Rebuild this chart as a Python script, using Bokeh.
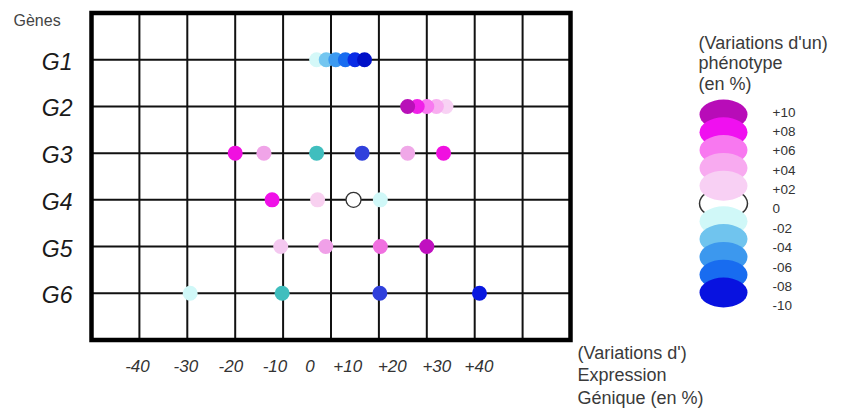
from bokeh.plotting import figure
from bokeh.models import Range1d
from bokeh.core.properties import value
from bokeh.embed import file_html
from bokeh.resources import INLINE

FONT = "Liberation Sans"

# ---------------- data ----------------
genes = ["G1", "G2", "G3", "G4", "G5", "G6"]

# gene expression variation (%) of each dot, per gene (listed in drawing order)
expr_G1 = [-3, -1, 1, 3, 5, 7]
expr_G2 = [24, 22, 20, 18, 16]
expr_G3 = [-20, -14, -3, 6.5, 16, 23.5]
expr_G4 = [-12.3, -2.8, 4.7, 10.3]
expr_G5 = [-10.5, -1.1, 10.3, 20]
expr_G6 = [-29.4, -10.2, 10.2, 31]

# colour of each dot (phenotype variation)
col_G1 = ["#d4f8f8", "#74c6f0", "#3c9af0", "#186cf0", "#0a2ce6", "#0010c8"]
col_G2 = ["#f8d2f4", "#f8aef0", "#f878f0", "#f020e8", "#b810b8"]
col_G3 = ["#f010e0", "#f0a4e8", "#40bebe", "#3040dc", "#f0a8e8", "#f010e0"]
col_G4 = ["#f010e8", "#f8d0f0", "#ffffff", "#d0f8f8"]
col_G5 = ["#f4c8f0", "#f0a0e8", "#f070e0", "#c010c0"]
col_G6 = ["#d0f8f8", "#40bebe", "#3040dc", "#0818e0"]

expr_values = [expr_G1, expr_G2, expr_G3, expr_G4, expr_G5, expr_G6]
dot_colors = [col_G1, col_G2, col_G3, col_G4, col_G5, col_G6]

# expression axis: grid lines and its (hand-placed) tick labels
x_limits = [-50, 50]
grid_x = [-40, -30, -20, -10, 0, 10, 20, 30, 40]
x_tick_labels = ["-40", "-30", "-20", "-10", "0", "+10", "+20", "+30", "+40"]
x_tick_positions = [-40.4, -30.3, -20.9, -11.7, -4.4, 3.5, 12.8, 22.1, 30.9]

# phenotype legend
legend_values = [10, 8, 6, 4, 2, 0, -2, -4, -6, -8, -10]
legend_labels = ["+10", "+08", "+06", "+04", "+02", "0", "-02", "-04", "-06", "-08", "-10"]
legend_colors = ["#b80cb8", "#f010f0", "#f878f0", "#f8aaf0", "#f8d0f4", "#ffffff",
                 "#d0f8f8", "#70c4ee", "#3c98ee", "#186cf0", "#0812e0"]

legend_title = ["(Variations d'un)", "phénotype", "(en %)"]
x_title = ["(Variations d')", "Expression", "Génique (en %)"]
y_title = "Gènes"

# ---------------- layout (pixels) ----------------
W, H = 840, 410
BOX_L, BOX_R, BOX_T, BOX_B = 91, 570, 12.6, 339.4

n = len(genes)
gene_row = {g: n - i for i, g in enumerate(genes)}
y_limits = [0, n + 1]

ux = (x_limits[1] - x_limits[0]) / (BOX_R - BOX_L)
uy = (y_limits[1] - y_limits[0]) / (BOX_B - BOX_T)
x_range = Range1d(x_limits[0] - BOX_L * ux, x_limits[1] + (W - BOX_R) * ux)
y_range = Range1d(y_limits[0] - (H - BOX_B) * uy, y_limits[1] + BOX_T * uy)

p = figure(width=W, height=H, x_range=x_range, y_range=y_range,
           output_backend="svg", toolbar_location=None, min_border=0,
           x_axis_location=None, y_axis_location=None)
p.extra_x_ranges = {"px": Range1d(0, W)}
p.extra_y_ranges = {"px": Range1d(H, 0)}
p.grid.visible = False
p.outline_line_color = None
p.background_fill_color = "white"
p.border_fill_color = "white"

# grid
rows = list(gene_row.values())
p.segment(x0=grid_x, y0=[y_limits[0]] * len(grid_x), x1=grid_x, y1=[y_limits[1]] * len(grid_x),
          line_color="#111111", line_width=2)
p.segment(x0=[x_limits[0]] * n, y0=rows, x1=[x_limits[1]] * n, y1=rows,
          line_color="#111111", line_width=2)
# frame
p.quad(left=[x_limits[0]], right=[x_limits[1]], bottom=[y_limits[0]], top=[y_limits[1]],
       fill_color=None, line_color="black", line_width=4.5, line_join="miter")

# dots
xs, ys, fills, lines = [], [], [], []
for g, ev, cv in zip(genes, expr_values, dot_colors):
    for xv, c in zip(ev, cv):
        xs.append(xv)
        ys.append(gene_row[g])
        fills.append(c)
        lines.append("#333333" if c == "#ffffff" else None)
p.scatter(x=xs, y=ys, size=15, fill_color=fills, line_color=lines, line_width=1.3)

# tick labels (x)
p.text(x=x_tick_positions, y=[365] * len(x_tick_positions), y_range_name="px",
       text=x_tick_labels, text_font=value(FONT), text_font_style="italic",
       text_font_size="17px", text_color="#333333",
       text_align="center", text_baseline="middle")
# gene labels (y)
p.text(x=[72] * n, y=rows, x_range_name="px", text=genes, y_offset=2,
       text_font=value(FONT), text_font_style="italic", text_font_size="23px",
       text_color="#1a1a1a", text_align="right", text_baseline="middle")
p.text(x=[13], y=[20], x_range_name="px", y_range_name="px", text=[y_title],
       text_font=value(FONT), text_font_size="16px", text_color="#444444",
       text_align="left", text_baseline="middle")

# legend
ell_x = 723
ell_y = [114 + 17.8 * i for i in range(len(legend_values))]
lab_y = [111.7 + 19.35 * i for i in range(len(legend_values))]
zero = legend_values.index(0)
p.ellipse(x=[ell_x], y=[ell_y[zero]], width=48, height=30, fill_color="white",
          line_color="#333333", line_width=1.5, x_range_name="px", y_range_name="px")
others = [i for i in range(len(legend_values)) if i != zero]
p.ellipse(x=[ell_x] * len(others), y=[ell_y[i] for i in others], width=48, height=30,
          fill_color=[legend_colors[i] for i in others], line_color=None,
          x_range_name="px", y_range_name="px")
p.text(x=[772] * len(legend_labels), y=lab_y, text=legend_labels,
       x_range_name="px", y_range_name="px",
       text_font=value(FONT), text_font_size="13.5px", text_color="#333333",
       text_baseline="middle", text_align="left")

p.text(x=[698] * 3, y=[42 + 20.5 * i for i in range(3)], text=legend_title,
       x_range_name="px", y_range_name="px",
       text_font=value(FONT), text_font_size="18px", text_color="#3a3a3a",
       text_baseline="middle", text_align="left")
p.text(x=[577] * 3, y=[352 + 22.5 * i for i in range(3)], text=x_title,
       x_range_name="px", y_range_name="px",
       text_font=value(FONT), text_font_size="18px", text_color="#3a3a3a",
       text_baseline="middle", text_align="left")

open("out.html", "w").write(file_html(p, INLINE))
